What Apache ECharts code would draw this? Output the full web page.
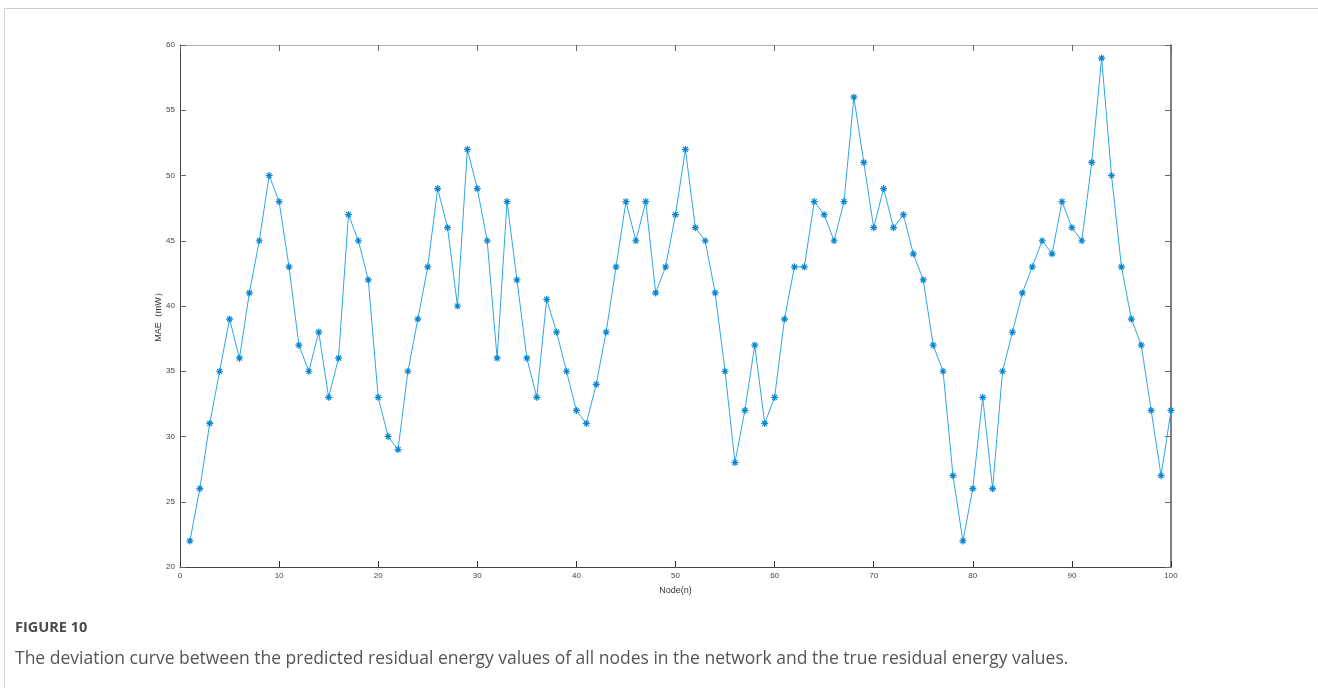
<!DOCTYPE html>
<html>
<head>
<meta charset="utf-8">
<script src="https://cdn.jsdelivr.net/npm/echarts@6/dist/echarts.min.js"></script>
<style>
  html, body { margin: 0; padding: 0; background: #fff; width: 1318px; height: 688px; overflow: hidden; }
  #card { position: absolute; left: 4px; top: 8px; width: 1314px; height: 680px; border-top: 1px solid #cfcfcf; border-left: 1px solid #cfcfcf; box-sizing: border-box; }
  #chart { position: absolute; left: 0; top: 0; width: 1318px; height: 688px; }
  #figlabel { position: absolute; left: 15px; top: 617px; font-family: "Open Sans", sans-serif; font-weight: 700; font-size: 14.5px; color: #4a4a4a; }
  #caption { position: absolute; left: 15px; top: 645px; font-family: "Open Sans", sans-serif; font-weight: 400; font-size: 17.5px; color: #555; white-space: nowrap; }
</style>
</head>
<body>
<div id="card"></div>
<div id="chart"></div>
<div id="figlabel">FIGURE 10</div>
<div id="caption">The deviation curve between the predicted residual energy values of all nodes in the network and the true residual energy values.</div>
<script>
const nodes = Array.from({length: 100}, (_, i) => i + 1);
const maeValues = [
  22, 26, 31, 35, 39, 36, 41, 45, 50, 48,
  43, 37, 35, 38, 33, 36, 47, 45, 42, 33,
  30, 29, 35, 39, 43, 49, 46, 40, 52, 49,
  45, 36, 48, 42, 36, 33, 40.5, 38, 35, 32,
  31, 34, 38, 43, 48, 45, 48, 41, 43, 47,
  52, 46, 45, 41, 35, 28, 32, 37, 31, 33,
  39, 43, 43, 48, 47, 45, 48, 56, 51, 46,
  49, 46, 47, 44, 42, 37, 35, 27, 22, 26,
  33, 26, 35, 38, 41, 43, 45, 44, 48, 46,
  45, 51, 59, 50, 43, 39, 37, 32, 27, 32
];
const xTicks = { min: 0, max: 100, interval: 10 };
const yTicks = { min: 20, max: 60, interval: 5 };

const chart = echarts.init(document.getElementById('chart'), null, { renderer: 'canvas' });
const labelStyle = { fontFamily: 'Liberation Sans, Arial, sans-serif', fontSize: 8, color: '#444' };
const asterisk = 'path://M0,5 L10,5 M5,0 L5,10 M1.5,1.5 L8.5,8.5 M8.5,1.5 L1.5,8.5';

chart.setOption({
  animation: false,
  grid: { left: 180, top: 45, right: 147, bottom: 121, containLabel: false },
  xAxis: [
    {
      type: 'value', min: xTicks.min, max: xTicks.max, interval: xTicks.interval,
      name: 'Node(n)', nameLocation: 'middle', nameGap: 19, nameMoveOverlap: false,
      nameTextStyle: { fontFamily: 'Liberation Sans, Arial, sans-serif', fontSize: 9, color: '#333' },
      axisLine: { onZero: false, lineStyle: { color: '#444', width: 1 } },
      axisTick: { inside: true, length: 6, lineStyle: { color: '#333' } },
      axisLabel: Object.assign({ margin: 5 }, labelStyle),
      splitLine: { show: false }
    },
    {
      type: 'value', position: 'top', min: xTicks.min, max: xTicks.max, interval: xTicks.interval,
      axisLine: { onZero: false, lineStyle: { color: '#b0b0b0', width: 1 } },
      axisTick: { inside: true, length: 6, lineStyle: { color: '#666' } },
      axisLabel: { show: false },
      splitLine: { show: false }
    }
  ],
  yAxis: [
    {
      type: 'value', min: yTicks.min, max: yTicks.max, interval: yTicks.interval,
      name: 'MAE（mW）', nameLocation: 'middle', nameGap: 17, nameRotate: 90, nameMoveOverlap: false,
      nameTextStyle: { fontFamily: 'Liberation Sans, Arial, sans-serif', fontSize: 9, color: '#333', padding: [0, 18, 0, 0] },
      axisLine: { onZero: false, lineStyle: { color: '#444', width: 1 } },
      axisTick: { inside: true, length: 6, lineStyle: { color: '#666' } },
      axisLabel: Object.assign({ margin: 5 }, labelStyle),
      splitLine: { show: false }
    },
    {
      type: 'value', position: 'right', min: yTicks.min, max: yTicks.max, interval: yTicks.interval,
      axisLine: { onZero: false, lineStyle: { color: '#555', width: 1.5 } },
      axisTick: { inside: true, length: 6, lineStyle: { color: '#666' } },
      axisLabel: { show: false },
      splitLine: { show: false }
    }
  ],
  series: [{
    type: 'line',
    xAxisIndex: 0, yAxisIndex: 0,
    data: nodes.map((n, i) => [n, maeValues[i]]),
    symbol: asterisk,
    symbolSize: 7,
    showAllSymbol: true,
    lineStyle: { color: '#2ea6e6', width: 1 },
    itemStyle: { color: 'rgba(0,0,0,0)', borderColor: '#0a86d0', borderWidth: 1.2 },
    emphasis: { disabled: true }
  }]
});
</script>
</body>
</html>
